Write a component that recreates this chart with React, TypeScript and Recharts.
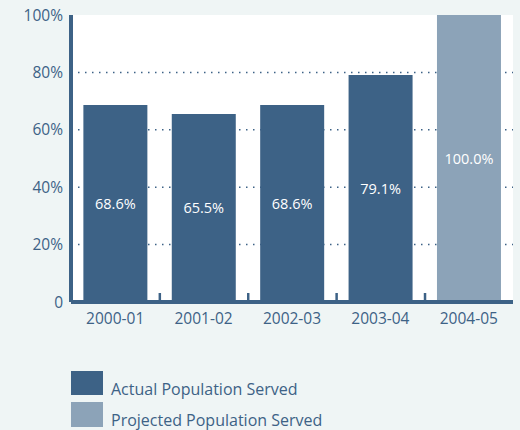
import React from 'react';
import { BarChart, Bar, XAxis, YAxis, CartesianGrid, LabelList } from 'recharts';

const years = ['2000-01', '2001-02', '2002-03', '2003-04', '2004-05'];
const actual = [68.6, 65.5, 68.6, 79.1, null];
const projected = [null, null, null, null, 100.0];
const yTicks = [0, 20, 40, 60, 80, 100];
const gridValues = [20, 40, 60, 80];

const DARK = '#3d6286';
const LIGHT = '#8ca3b8';
const BG = '#eff5f5';
const FONT = '"Open Sans", "Noto Sans", sans-serif';
const GAP = 0.14; // barCategoryGap as a fraction of the band

const data = years.map((year, i) => ({ year, actual: actual[i], projected: projected[i] }));

const pct = (v: any) => (v == null ? '' : `${Number(v).toFixed(1)}%`);

// small inward tick on the x axis between this band and the next one
const BandTick = (props: any) => {
  const vb = props.viewBox || props;
  const { x, y, width, height } = vb;
  if (props.index >= years.length - 1 || !width) return null;
  const band = width / (1 - 2 * GAP);
  const bx = x + width + GAP * band;
  const base = y + height;
  return <line x1={bx} x2={bx} y1={base} y2={base - 9} stroke={DARK} strokeWidth={2.5} />;
};

const App = () => (
  <div style={{ position: 'absolute', left: 0, top: 0, width: 520, height: 430, background: BG, fontFamily: FONT, overflow: 'hidden' }}>
    <BarChart width={520} height={335} data={data} margin={{ top: 15, right: 7, left: 0, bottom: 5 }} barCategoryGap={`${GAP * 100}%`}>
      <CartesianGrid
        horizontal
        vertical={false}
        horizontalValues={gridValues}
        fill="#ffffff"
        stroke={DARK}
        strokeWidth={1.5}
        strokeDasharray="1.5 5.5"
      />
      <Bar dataKey="actual" stackId="a" fill={DARK} isAnimationActive={false}>
        <LabelList dataKey="actual" position="center" fill="#ffffff" fontSize={14.5} fontFamily={FONT} formatter={pct} />
        <LabelList dataKey="actual" content={BandTick} />
      </Bar>
      <Bar dataKey="projected" stackId="a" fill={LIGHT} isAnimationActive={false}>
        <LabelList dataKey="projected" position="center" fill="#ffffff" fontSize={14.5} fontFamily={FONT} formatter={pct} />
      </Bar>
      <XAxis
        dataKey="year"
        height={28}
        interval={0}
        axisLine={{ stroke: DARK, strokeWidth: 4 }}
        tickLine={false}
        tickMargin={5}
        tick={{ fill: DARK, fontSize: 15.5, fontFamily: FONT }}
      />
      <YAxis
        domain={[0, 100]}
        ticks={yTicks}
        width={71}
        axisLine={{ stroke: DARK, strokeWidth: 4 }}
        tickLine={false}
        tick={{ fill: DARK, fontSize: 15.5, fontFamily: FONT }}
        tickFormatter={(v: number) => (v === 0 ? '0' : `${v}%`)}
      />
      <YAxis
        yAxisId="right"
        orientation="right"
        domain={[0, 100]}
        width={0}
        tick={false}
        tickLine={false}
        axisLine={{ stroke: DARK, strokeWidth: 3.5 }}
      />
    </BarChart>
    <div style={{ position: 'absolute', left: 71, top: 371 }}>
      <div style={{ display: 'flex', alignItems: 'flex-end', height: 24, marginBottom: 7 }}>
        <div style={{ width: 32, height: 24, background: DARK }} />
        <span style={{ marginLeft: 8, color: DARK, fontSize: 16, lineHeight: '16px', marginBottom: -2 }}>Actual Population Served</span>
      </div>
      <div style={{ display: 'flex', alignItems: 'flex-end', height: 25 }}>
        <div style={{ width: 32, height: 25, background: LIGHT }} />
        <span style={{ marginLeft: 8, color: DARK, fontSize: 16, lineHeight: '16px', marginBottom: -1 }}>Projected Population Served</span>
      </div>
    </div>
  </div>
);

export default App;
